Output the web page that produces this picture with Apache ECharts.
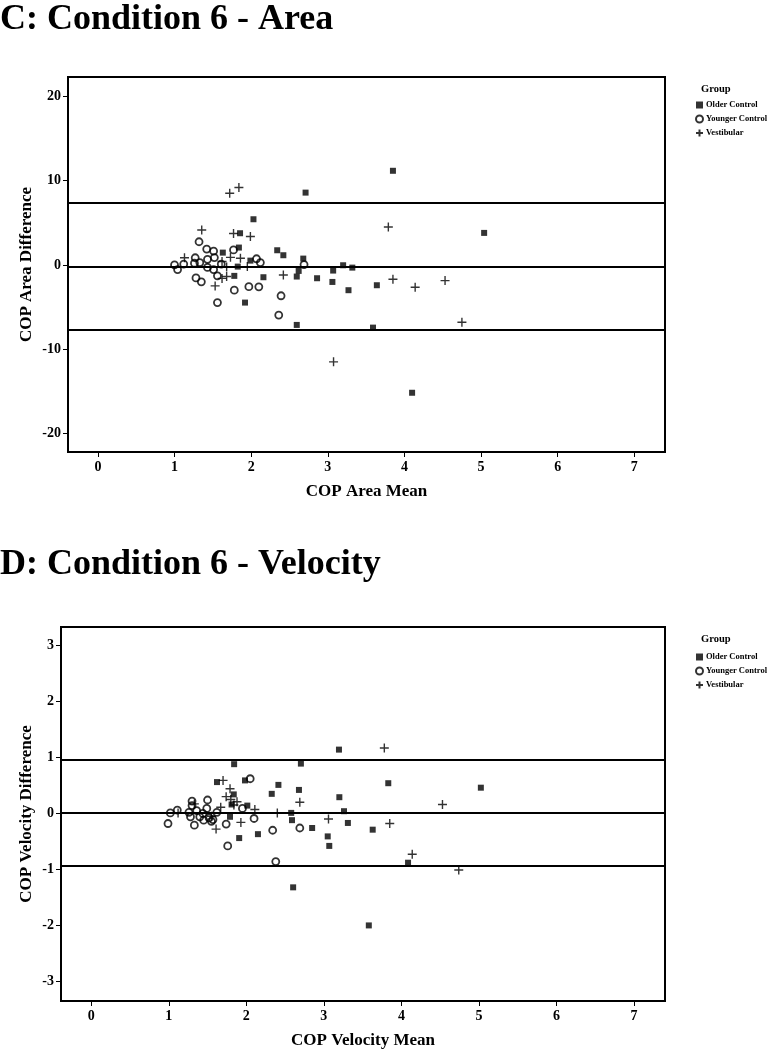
<!DOCTYPE html>
<html><head><meta charset="utf-8">
<script src="https://cdn.jsdelivr.net/npm/echarts@6/dist/echarts.min.js"></script>
<style>html,body{margin:0;padding:0;background:#fff}#c{width:769px;height:1050px}</style>
</head><body><div id="c"></div>
<script>
// ---- data ----
const groups = ['Older Control', 'Younger Control', 'Vestibular'];
const xTicks = [0, 1, 2, 3, 4, 5, 6, 7];
const areaYTicks = [-20, -10, 0, 10, 20];
const velYTicks = [-3, -2, -1, 0, 1, 2, 3];

// C: Condition 6 - Area  [mean, difference]
const areaOlder = [[3.85,11.17],[2.71,8.58],[2.03,5.42],[1.855,3.76],[5.04,3.8],[1.84,2.06],[1.63,1.46],[2.34,1.74],[2.42,1.15],[2.68,0.75],[1.99,0.51],[1.825,-0.2],[1.78,-1.3],[2.16,-1.46],[2.595,-1.38],[2.62,-0.71],[2.86,-1.58],[3.07,-0.67],[3.06,-2.02],[3.20,-0.04],[3.32,-0.32],[3.27,-3.0],[3.64,-2.41],[1.92,-4.47],[2.595,-7.12],[3.59,-7.44],[4.10,-15.17]];
const areaYounger = [[1.00,0.0],[1.04,-0.55],[1.12,0.1],[1.27,0.85],[1.26,0.2],[1.33,0.28],[1.32,2.75],[1.42,1.88],[1.43,0.67],[1.43,-0.3],[1.51,1.64],[1.52,0.87],[1.51,-0.55],[1.56,-1.29],[1.61,0.1],[1.28,-1.54],[1.35,-2.0],[1.56,-4.47],[1.77,1.78],[1.78,-3.0],[1.97,-2.58],[2.10,-2.6],[2.07,0.73],[2.12,0.28],[2.39,-3.66],[2.36,-5.95],[2.69,0.04]];
const areaVestibular = [[1.72,8.5],[1.84,9.18],[1.355,4.15],[1.77,3.72],[1.99,3.38],[3.79,4.5],[1.13,0.85],[1.73,0.9],[1.86,0.8],[1.62,0.4],[1.95,-0.2],[1.68,-0.25],[1.68,-1.38],[1.62,-1.6],[1.53,-2.49],[2.42,-1.19],[3.85,-1.7],[4.14,-2.65],[4.53,-1.86],[4.75,-6.81],[3.075,-11.5]];
const areaRefLines = [7.37, -0.17, -7.71];

// D: Condition 6 - Velocity  [mean, difference]
const velOlder = [[3.195,1.14],[1.843,0.88],[2.704,0.89],[1.622,0.56],[1.983,0.59],[2.414,0.51],[2.328,0.35],[2.679,0.42],[3.831,0.54],[5.025,0.46],[1.838,0.34],[3.2,0.29],[1.81,0.16],[2.013,0.14],[2.579,0.01],[3.26,0.04],[1.79,-0.06],[2.589,-0.12],[3.31,-0.17],[2.849,-0.26],[3.63,-0.29],[1.908,-0.44],[2.15,-0.37],[3.05,-0.41],[3.07,-0.58],[4.086,-0.88],[2.604,-1.32],[3.58,-2.0]];
const velYounger = [[0.99,-0.18],[1.02,0.01],[1.11,0.06],[1.26,0.02],[1.28,-0.06],[1.30,0.14],[1.30,0.22],[1.33,-0.21],[1.36,0.05],[1.40,-0.06],[1.44,0.0],[1.45,-0.12],[1.50,0.24],[1.49,0.09],[1.52,-0.08],[1.55,-0.14],[1.57,-0.11],[1.62,0.02],[1.74,-0.19],[1.76,-0.58],[1.95,0.09],[2.05,0.62],[2.10,-0.09],[2.34,-0.3],[2.69,-0.26],[2.38,-0.86]];
const velVestibular = [[3.78,1.17],[4.53,0.16],[3.85,-0.18],[4.14,-0.73],[4.74,-1.01],[2.69,0.2],[3.06,-0.1],[2.40,0.01],[1.93,-0.16],[1.61,-0.28],[1.70,0.59],[1.79,0.44],[1.74,0.3],[1.80,0.25],[1.88,0.21],[1.67,0.11],[2.11,0.07],[1.12,0.01],[1.33,0.17],[1.55,-0.05],[1.84,0.15]];
const velRefLines = [0.96, 0.01, -0.94];

// ---- styling ----
const FONT = "'Liberation Serif','Times New Roman',serif";
const PLUS = 'path://M0,5L10,5M5,0L5,10';
const symbolDefs = {
  'Older Control': { symbol: 'rect', symbolSize: 6, itemStyle: { color: '#000', borderWidth: 0 } },
  'Younger Control': { symbol: 'circle', symbolSize: 7, itemStyle: { color: 'rgba(0,0,0,0)', borderColor: '#000', borderWidth: 1.8 } },
  'Vestibular': { symbol: PLUS, symbolSize: 9, itemStyle: { color: 'rgba(0,0,0,0)', borderColor: '#000', borderWidth: 1.4 } }
};

function xAxisDef(gi, name) {
  return {
    gridIndex: gi, type: 'value', min: -0.39, max: 7.4,
    name: name, nameLocation: 'middle', nameGap: 31, nameMoveOverlap: false,
    nameTextStyle: { fontFamily: FONT, fontWeight: 'bold', fontSize: 17, color: '#000' },
    axisLine: { show: true, onZero: false, lineStyle: { color: '#000', width: 2 } },
    axisTick: { show: true, length: 5, customValues: xTicks, lineStyle: { color: '#000', width: 1 } },
    axisLabel: { customValues: xTicks, margin: 8, fontFamily: FONT, fontWeight: 'bold', fontSize: 14, color: '#000' },
    splitLine: { show: false }
  };
}
function yAxisDef(gi, name, min, max, ticks, gap) {
  return {
    gridIndex: gi, type: 'value', min: min, max: max,
    name: name, nameLocation: 'middle', nameGap: gap, nameRotate: 90, nameMoveOverlap: false,
    nameTextStyle: { fontFamily: FONT, fontWeight: 'bold', fontSize: 17, color: '#000' },
    axisLine: { show: true, onZero: false, lineStyle: { color: '#000', width: 2 } },
    axisTick: { show: true, length: 5, customValues: ticks, lineStyle: { color: '#000', width: 1 } },
    axisLabel: { customValues: ticks, margin: 7, fontFamily: FONT, fontWeight: 'bold', fontSize: 14, color: '#000' },
    splitLine: { show: false }
  };
}
function scatter(name, data, gi) {
  const d = symbolDefs[name];
  return {
    type: 'scatter', name: name, xAxisIndex: gi, yAxisIndex: gi, data: data,
    symbol: d.symbol, symbolSize: d.symbolSize, itemStyle: d.itemStyle,
    emphasis: { disabled: true }, z: 3
  };
}
function refSeries(gi, vals) {
  return {
    type: 'scatter', name: 'ref' + gi, xAxisIndex: gi, yAxisIndex: gi, data: [],
    markLine: {
      silent: true, symbol: ['none', 'none'], label: { show: false },
      lineStyle: { color: '#000', width: 2, type: 'solid' },
      data: vals.map(v => ({ yAxis: v }))
    }, z: 2
  };
}
function legendDef(top) {
  return {
    data: groups, orient: 'vertical', left: 695, top: top, itemGap: 4,
    itemWidth: 7, itemHeight: 7, padding: 0, selectedMode: false,
    textStyle: { fontFamily: FONT, fontWeight: 'bold', fontSize: 8.5, color: '#000', lineHeight: 10, padding: [0, 0, 0, -2] }
  };
}

const chart = echarts.init(document.getElementById('c'), null, { renderer: 'canvas' });
chart.setOption({
  backgroundColor: '#fff',
  animation: false,
  title: [
    { text: 'C: Condition 6 - Area', left: 0, top: 2, padding: 0,
      textStyle: { fontFamily: FONT, fontWeight: 'bold', fontSize: 36, color: '#000' } },
    { text: 'D: Condition 6 - Velocity', left: 0, top: 547, padding: 0,
      textStyle: { fontFamily: FONT, fontWeight: 'bold', fontSize: 36, color: '#000' } },
    { text: 'Group', left: 701, top: 84, padding: 0,
      textStyle: { fontFamily: FONT, fontWeight: 'bold', fontSize: 10.5, color: '#000' } },
    { text: 'Group', left: 701, top: 634, padding: 0,
      textStyle: { fontFamily: FONT, fontWeight: 'bold', fontSize: 10.5, color: '#000' } }
  ],
  legend: [legendDef(100), legendDef(652)],
  grid: [
    { left: 68, top: 77, width: 597, height: 375, show: true, borderColor: '#000', borderWidth: 2, containLabel: false },
    { left: 61, top: 627, width: 604, height: 375, show: true, borderColor: '#000', borderWidth: 2, containLabel: false }
  ],
  xAxis: [xAxisDef(0, 'COP Area Mean'), xAxisDef(1, 'COP Velocity Mean')],
  yAxis: [
    yAxisDef(0, 'COP Area Difference', -22.2, 22.3, areaYTicks, 33),
    yAxisDef(1, 'COP Velocity Difference', -3.35, 3.33, velYTicks, 26)
  ],
  series: [
    refSeries(0, areaRefLines),
    scatter('Older Control', areaOlder, 0),
    scatter('Younger Control', areaYounger, 0),
    scatter('Vestibular', areaVestibular, 0),
    refSeries(1, velRefLines),
    scatter('Older Control', velOlder, 1),
    scatter('Younger Control', velYounger, 1),
    scatter('Vestibular', velVestibular, 1)
  ]
});
</script></body></html>
